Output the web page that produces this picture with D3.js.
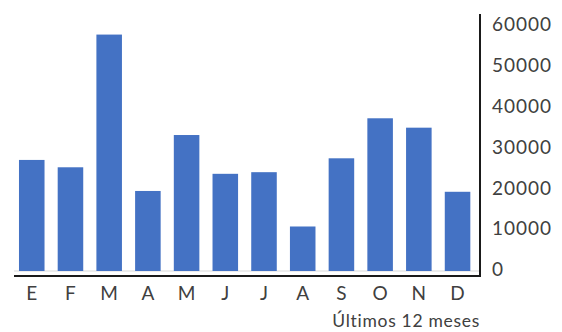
<!DOCTYPE html>
<html>
<head>
<meta charset="utf-8">
<script src="https://cdn.jsdelivr.net/npm/d3@7/dist/d3.min.js"></script>
<style>
  html, body { margin: 0; padding: 0; background: #fff; }
  svg { display: block; }
  .tick text { font-family: Lato, "Noto Sans", sans-serif; fill: #404040; }
</style>
</head>
<body>
<svg id="chart" width="562" height="332"></svg>
<script>
// Monthly totals, January to December
const months = ["E", "F", "M", "A", "M", "J", "J", "A", "S", "O", "N", "D"];
const monthKeys = d3.range(months.length);
const values = [27200, 25400, 57900, 19600, 33300, 23800, 24200, 10900, 27600, 37400, 35100, 19400];
const yTicks = [0, 10000, 20000, 30000, 40000, 50000, 60000];
const xTitle = "Últimos 12 meses";

const svg = d3.select("#chart");

const frame = { left: 14, right: 480, top: 14, bottom: 276 };

const x = d3.scaleBand()
  .domain(monthKeys)
  .range([12.4, 476.9])
  .paddingInner(0.34)
  .paddingOuter(0.17);

const y = d3.scaleLinear()
  .domain([0, 60000])
  .range([271, 26]);

// baseline at zero
svg.append("line")
  .attr("x1", frame.left).attr("x2", frame.right)
  .attr("y1", y(0)).attr("y2", y(0))
  .attr("stroke", "#d9d9d9").attr("stroke-width", 1);

// bars
svg.append("g")
  .selectAll("rect")
  .data(values)
  .join("rect")
  .attr("x", (d, i) => x(i))
  .attr("width", x.bandwidth())
  .attr("y", d => y(d))
  .attr("height", d => y(0) - y(d))
  .attr("fill", "#4472c4");

// frame lines: bottom and right
svg.append("path")
  .attr("d", `M${frame.left},${frame.bottom}H${frame.right}V${frame.top}`)
  .attr("fill", "none")
  .attr("stroke", "#1a1a1a")
  .attr("stroke-width", 2);

// value axis on the right
const yAxis = svg.append("g")
  .attr("transform", `translate(${frame.right},0)`)
  .call(d3.axisRight(y).tickValues(yTicks).tickSize(0).tickPadding(12).tickFormat(d3.format("d")));
yAxis.select(".domain").remove();
yAxis.selectAll("text")
  .attr("font-size", 19)
  .attr("letter-spacing", 1)
  .attr("dy", "0.25em");

// month axis
const xAxis = svg.append("g")
  .attr("transform", `translate(0,${frame.bottom})`)
  .call(d3.axisBottom(x).tickSize(0).tickPadding(11).tickFormat(i => months[i]));
xAxis.select(".domain").remove();
xAxis.selectAll("text").attr("font-size", 19);

// axis title
svg.append("text")
  .attr("x", frame.right)
  .attr("y", 327)
  .attr("text-anchor", "end")
  .attr("font-family", "Lato, 'Noto Sans', sans-serif")
  .attr("font-size", 17.5)
  .attr("letter-spacing", 0.7)
  .attr("fill", "#404040")
  .text(xTitle);
</script>
</body>
</html>
